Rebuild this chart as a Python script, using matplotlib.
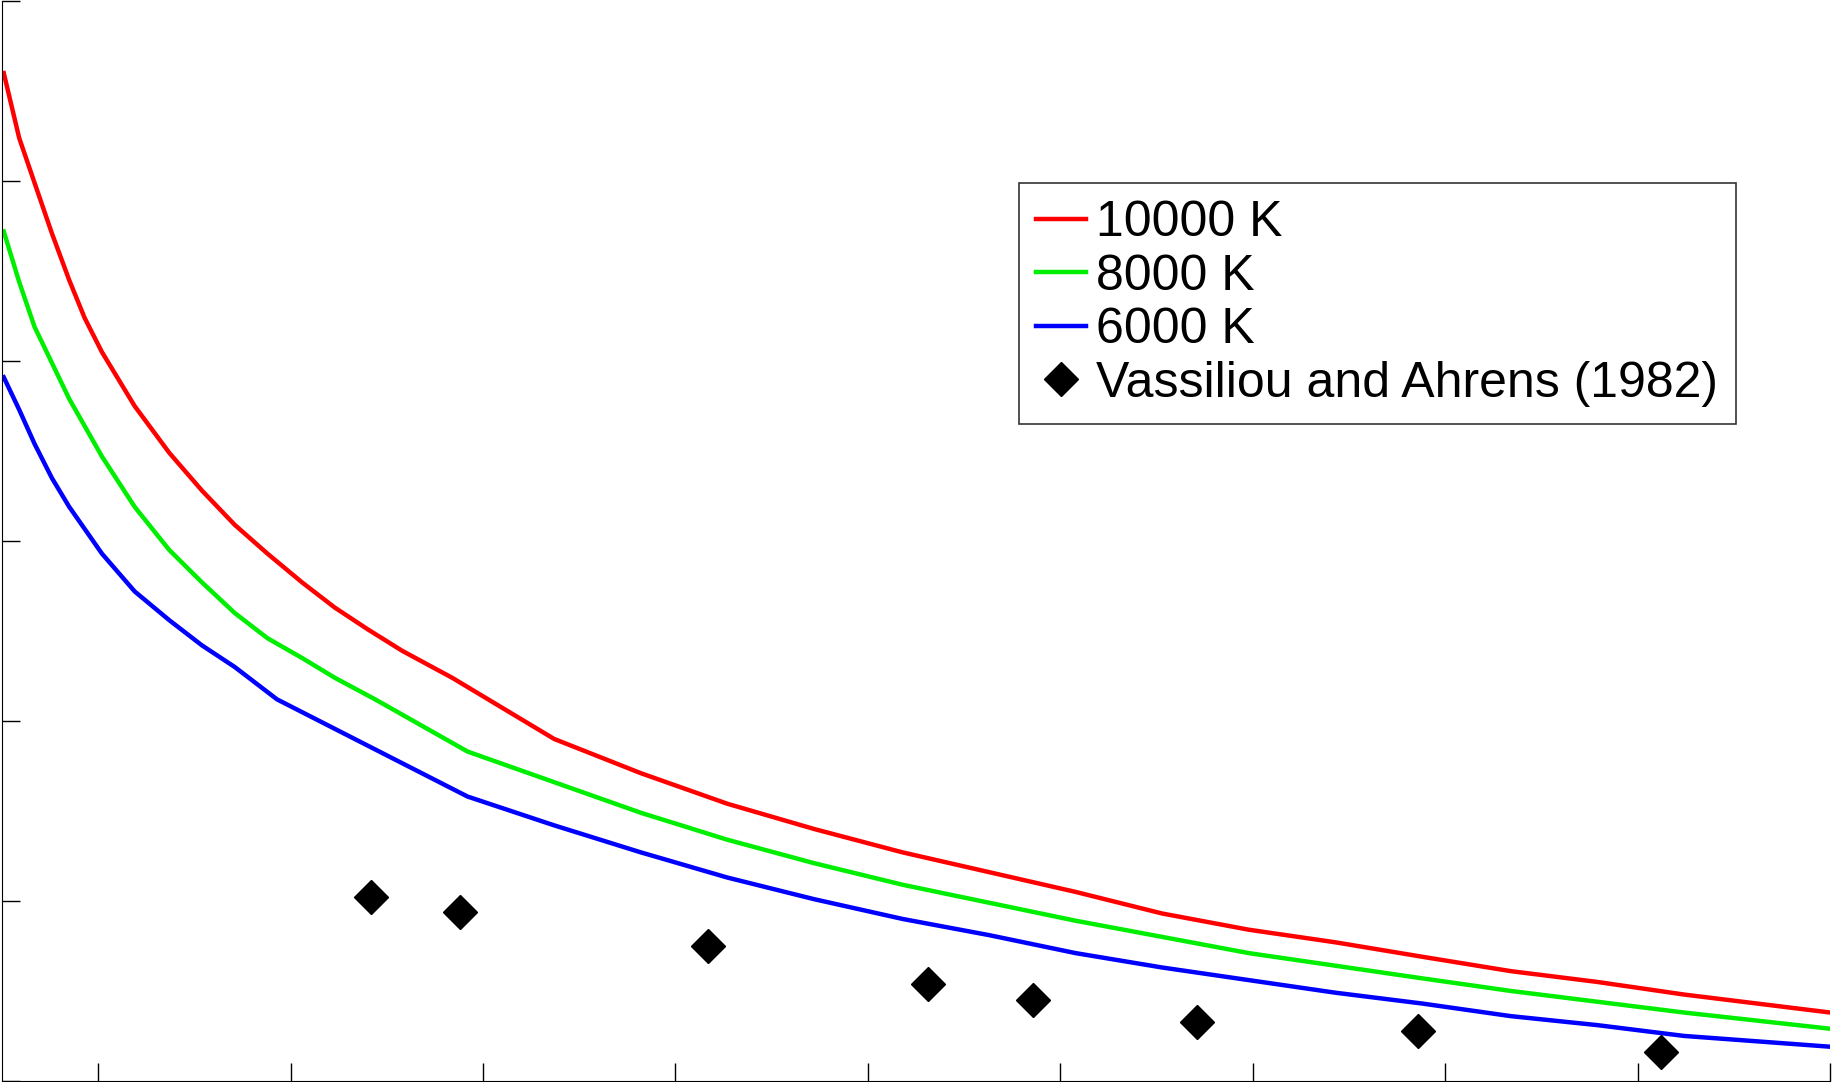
import matplotlib
matplotlib.use("Agg")
import matplotlib.pyplot as plt

red_x = [0.51, 0.59, 0.67, 0.76, 0.85, 0.93, 1.02, 1.19, 1.37, 1.54, 1.71, 1.88, 2.06, 2.23, 2.40, 2.58, 2.84,
         3.37, 3.82, 4.27, 4.72, 5.18, 5.63, 6.08, 6.53, 6.98, 7.43, 7.88, 8.34, 8.79, 9.24, 10.0]
red_y = [5.60, 5.24, 4.99, 4.71, 4.45, 4.24, 4.05, 3.75, 3.49, 3.28, 3.09, 2.93, 2.77, 2.63, 2.51, 2.39, 2.24,
         1.90, 1.71, 1.54, 1.40, 1.27, 1.16, 1.05, 0.93, 0.84, 0.77, 0.69, 0.61, 0.55, 0.48, 0.38]
green_x = [0.51, 0.59, 0.67, 0.85, 1.02, 1.19, 1.37, 1.54, 1.71, 1.88, 2.06, 2.23, 2.44, 2.92,
           3.37, 3.82, 4.27, 4.72, 5.18, 5.63, 6.08, 6.53, 6.98, 7.43, 7.88, 8.34, 8.79, 9.24, 10.0]
green_y = [4.72, 4.44, 4.19, 3.79, 3.47, 3.19, 2.95, 2.77, 2.60, 2.46, 2.35, 2.24, 2.12, 1.83,
           1.66, 1.49, 1.34, 1.21, 1.09, 0.99, 0.89, 0.80, 0.71, 0.64, 0.57, 0.50, 0.44, 0.38, 0.29]
blue_x = [0.51, 0.59, 0.67, 0.76, 0.85, 1.02, 1.19, 1.37, 1.54, 1.71, 1.93, 2.92,
          3.37, 3.82, 4.27, 4.72, 5.18, 5.63, 6.08, 6.53, 6.98, 7.43, 7.88, 8.34, 8.79, 9.24, 10.0]
blue_y = [3.91, 3.73, 3.54, 3.35, 3.19, 2.93, 2.72, 2.56, 2.42, 2.30, 2.12, 1.58,
          1.42, 1.27, 1.13, 1.01, 0.90, 0.81, 0.71, 0.63, 0.56, 0.49, 0.43, 0.36, 0.31, 0.25, 0.19]
vx = [2.42, 2.88, 4.17, 5.31, 5.86, 6.71, 7.86, 9.12]
vy = [1.02, 0.94, 0.75, 0.54, 0.45, 0.33, 0.28, 0.16]

plt.rcParams['font.family'] = ['Liberation Sans', 'DejaVu Sans']
fig = plt.figure(figsize=(18.32, 10.82), dpi=100)
ax = fig.add_axes([0.001, 0.001, 0.998, 0.998])
ax.plot(red_x, red_y, color='#ff0000', lw=3.2, label='10000 K')
ax.plot(green_x, green_y, color='#00ee00', lw=3.2, label='8000 K')
ax.plot(blue_x, blue_y, color='#0000ff', lw=3.2, label='6000 K')
ax.plot(vx, vy, 'D', color='black', ms=17, ls='none', label='Vassiliou and Ahrens (1982)')
ax.set_xlim(0.5, 10)
ax.set_ylim(0, 6)
ax.set_xticks(range(1, 11))
ax.set_yticks(range(0, 7))
ax.set_xticklabels([])
ax.set_yticklabels([])
ax.tick_params(direction='in', length=13, width=1)
for s in ['top', 'right']:
    ax.spines[s].set_visible(False)
leg = ax.legend(loc='upper right', bbox_to_anchor=(0.962, 0.855), fontsize=36,
                frameon=True, fancybox=False, edgecolor='black', handlelength=1.0,
                handletextpad=0.2, borderpad=0.35, labelspacing=0.15)
leg.get_frame().set_linewidth(1.2)
fig.savefig('out.png', dpi=100)
